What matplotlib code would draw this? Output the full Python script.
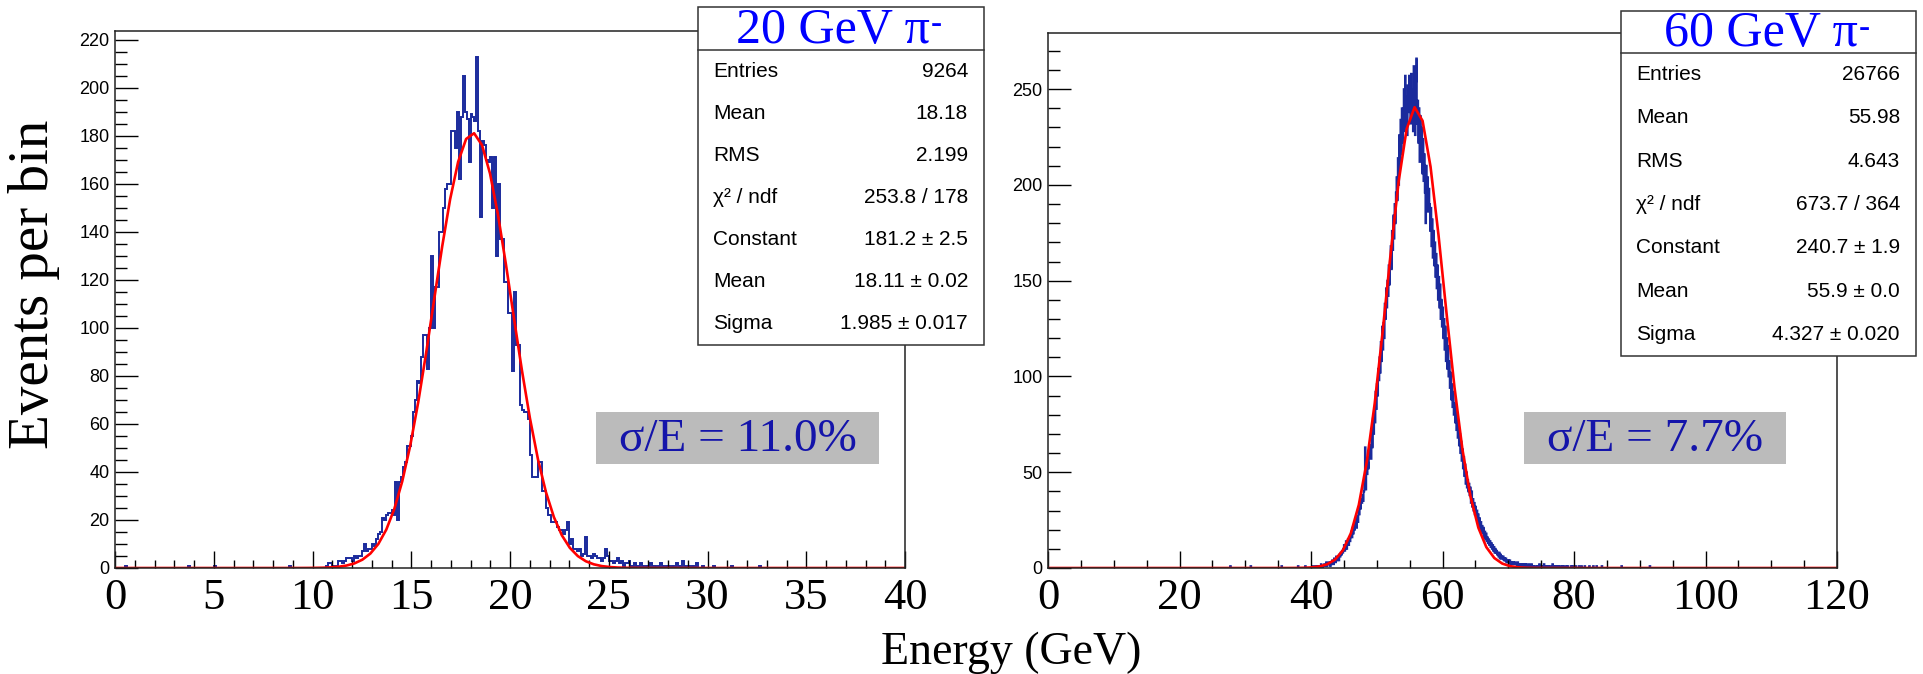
import numpy as np
import matplotlib
matplotlib.use("Agg")
import matplotlib.pyplot as plt
from matplotlib.patches import Rectangle
from matplotlib.ticker import MultipleLocator

W, H = 1923, 674
SERIF = ['Liberation Serif', 'DejaVu Serif']
SANS = ['Liberation Sans', 'DejaVu Sans']
HIST_COLOR = '#1a2a9c'
FIT_COLOR = '#ff0000'

# ---- 20 GeV pi- : 0.1 GeV bins over 0-40 GeV, counts listed from 10.0 GeV ----
e20_range = (0.0, 40.0)
e20_start = 10.0
e20_counts = [
    0, 0, 0, 0, 0, 0, 0, 1, 2, 2,
    1, 0, 1, 3, 3, 2, 3, 4, 4, 4,
    3, 5, 4, 5, 5, 7, 10, 7, 8, 8,
    10, 9, 12, 14, 15, 21, 20, 22, 23, 23,
    24, 22, 36, 20, 36, 38, 42, 44, 51, 51,
    55, 65, 70, 78, 77, 88, 97, 97, 83, 100,
    130, 100, 117, 117, 140, 140, 150, 158, 160, 160,
    182, 182, 175, 190, 162, 188, 205, 190, 187, 169,
    189, 188, 186, 213, 182, 146, 178, 176, 170, 169,
    171, 150, 171, 130, 160, 137, 137, 119, 119, 106,
    106, 82, 115, 93, 93, 68, 66, 65, 65, 62,
    47, 38, 38, 38, 44, 44, 32, 32, 25, 22,
    22, 19, 19, 19, 17, 16, 16, 14, 16, 19,
    10, 12, 8, 8, 7, 8, 5, 6, 13, 5,
    5, 4, 6, 5, 4, 4, 3, 4, 8, 5,
    3, 3, 2, 3, 4, 2, 3, 1, 2, 2,
    3, 1, 1, 2, 1, 1, 2, 1, 0, 1,
    1, 2, 1, 1, 0, 1, 2, 1, 0, 1,
    1, 0, 1, 0, 2, 1, 0, 3, 1, 0,
    1, 0, 1, 0, 2, 0, 0, 1, 0, 0,
]
e20_sparse = [(0.5, 1), (3.7, 1), (5.1, 1), (8.8, 1), (30.4, 1), (31.2, 1), (32.6, 1)]
e20_fit = (181.2, 18.11, 1.985)
e20_title = "20 GeV \u03c0"
e20_stats = [("Entries", "9264"), ("Mean", "18.18"), ("RMS", "2.199"),
             ("\u03c7\u00b2 / ndf", "253.8 / 178"), ("Constant", "181.2 \u00b1 2.5"),
             ("Mean", "18.11 \u00b1 0.02"), ("Sigma", "1.985 \u00b1 0.017")]
e20_res = "\u03c3/E = 11.0%"

# ---- 60 GeV pi- : 0.1 GeV bins over 0-120 GeV, counts listed from 40.0 GeV ----
e60_range = (0.0, 120.0)
e60_start = 40.0
e60_counts = [
    0, 0, 1, 0, 0, 0, 1, 0, 0, 1,
    0, 1, 0, 1, 0, 2, 1, 0, 1, 1,
    2, 1, 1, 3, 1, 2, 2, 3, 2, 1,
    3, 2, 4, 3, 2, 5, 4, 3, 6, 4,
    5, 6, 4, 7, 6, 8, 7, 9, 8, 10,
    12, 9, 11, 14, 10, 13, 15, 12, 16, 14,
    17, 19, 16, 21, 18, 22, 20, 25, 23, 21,
    27, 24, 30, 28, 33, 31, 36, 34, 38, 35,
    40, 46, 63, 41, 50, 49, 55, 52, 58, 61,
    64, 57, 72, 63, 78, 70, 84, 76, 92, 83,
    96, 90, 104, 98, 110, 102, 118, 108, 126, 114,
    128, 120, 138, 130, 146, 136, 150, 142, 158, 148,
    160, 168, 156, 176, 166, 184, 172, 190, 180, 196,
    204, 192, 214, 200, 226, 210, 234, 216, 240, 222,
    236, 250, 228, 257, 232, 246, 226, 252, 238, 257,
    244, 232, 258, 236, 250, 228, 262, 238, 226, 254,
    266, 232, 244, 222, 240, 212, 236, 218, 230, 206,
    224, 202, 216, 196, 180, 210, 192, 204, 186, 198,
    190, 176, 188, 168, 182, 162, 176, 158, 170, 152,
    164, 146, 158, 140, 152, 136, 148, 130, 140, 126,
    136, 120, 130, 114, 126, 108, 120, 104, 116, 100,
    108, 94, 102, 88, 96, 84, 92, 80, 86, 76,
    82, 72, 78, 68, 74, 64, 70, 60, 66, 56,
    62, 52, 58, 48, 54, 44, 50, 42, 46, 40,
    44, 38, 42, 34, 40, 32, 36, 30, 34, 28,
    32, 27, 30, 24, 28, 22, 26, 20, 24, 19,
    22, 18, 21, 16, 19, 15, 18, 14, 16, 13,
    15, 12, 14, 11, 13, 10, 12, 9, 11, 8,
    10, 8, 9, 7, 8, 6, 8, 5, 7, 5,
    6, 5, 6, 4, 5, 4, 5, 3, 4, 3,
    4, 3, 4, 2, 3, 3, 2, 3, 2, 2,
    3, 2, 2, 1, 3, 2, 1, 2, 2, 1,
    2, 1, 2, 1, 1, 2, 1, 2, 1, 1,
    1, 2, 1, 1, 0, 2, 1, 1, 1, 0,
    1, 1, 1, 0, 1, 1, 0, 2, 1, 0,
    0, 1, 1, 0, 2, 0, 1, 0, 1, 0,
    1, 0, 0, 1, 1, 0, 0, 2, 0, 1,
    0, 1, 0, 0, 1, 0, 1, 0, 0, 1,
    0, 0, 1, 0, 1, 0, 0, 0, 1, 0,
    1, 0, 0, 0, 0, 1, 0, 0, 1, 0,
    0, 0, 1, 0, 0, 0, 0, 1, 0, 0,
    0, 1, 0, 0, 0, 0, 1, 0, 0, 0,
    0, 0, 0, 1, 0, 0, 0, 0, 0, 1,
    0, 0, 0, 0, 1, 0, 0, 0, 0, 0,
    0, 0, 1, 0, 0, 0, 0, 0, 0, 0,
]
e60_sparse = [(27.7, 1), (30.9, 1), (35.5, 1), (38.0, 1), (39.1, 1), (87.3, 1), (91.6, 1)]
e60_fit = (240.7, 55.9, 4.327)
e60_title = "60 GeV \u03c0"
e60_stats = [("Entries", "26766"), ("Mean", "55.98"), ("RMS", "4.643"),
             ("\u03c7\u00b2 / ndf", "673.7 / 364"), ("Constant", "240.7 \u00b1 1.9"),
             ("Mean", "55.9 \u00b1 0.0"), ("Sigma", "4.327 \u00b1 0.020")]
e60_res = "\u03c3/E = 7.7%"

BIN_WIDTH = 0.1


def fx(px):
    return px / W


def fy(py):
    return 1 - py / H


def fill_bins(xrange, start, counts, sparse):
    lo, hi = xrange
    n = int(round((hi - lo) / BIN_WIDTH))
    h = np.zeros(n)
    i0 = int(round((start - lo) / BIN_WIDTH))
    h[i0:i0 + len(counts)] = counts
    for e, c in sparse:
        h[int((e - lo) / BIN_WIDTH)] += c
    edges = lo + BIN_WIDTH * np.arange(n + 1)
    return edges, h


def draw_panel(ax, xrange, start, counts, sparse, fit, xmaj, xmin, ymaj, ymin):
    edges, h = fill_bins(xrange, start, counts, sparse)
    ax.stairs(h, edges, color=HIST_COLOR, lw=1.4, baseline=0)
    # gaussian fit drawn like a TF1 with 100 points
    c, mu, sig = fit
    xs = np.linspace(xrange[0], xrange[1], 100)
    ax.plot(xs, c * np.exp(-0.5 * ((xs - mu) / sig) ** 2), color=FIT_COLOR, lw=1.9)
    ax.set_xlim(*xrange)
    ax.set_ylim(0, 1.05 * h.max())
    ax.xaxis.set_major_locator(MultipleLocator(xmaj))
    ax.xaxis.set_minor_locator(MultipleLocator(xmin))
    ax.yaxis.set_major_locator(MultipleLocator(ymaj))
    ax.yaxis.set_minor_locator(MultipleLocator(ymin))
    ax.tick_params(axis='x', which='major', direction='in', length=12, width=1.0, pad=7)
    ax.tick_params(axis='x', which='minor', direction='in', length=6, width=1.0)
    ax.tick_params(axis='y', which='major', direction='in', length=16.5, width=1.0, pad=4)
    ax.tick_params(axis='y', which='minor', direction='in', length=8.5, width=1.0)
    for lab in ax.get_xticklabels():
        lab.set_fontfamily(SERIF)
        lab.set_fontsize(32)
    for lab in ax.get_yticklabels():
        lab.set_fontfamily(SANS)
        lab.set_fontsize(13)
    for sp in ax.spines.values():
        sp.set_linewidth(1.1)
        sp.set_color('#222222')


def stats_box(fig, x0, x1, y0, ytitle, y1, title, rows):
    fig.add_artist(Rectangle((fx(x0), fy(y1)), fx(x1) - fx(x0), fy(y0) - fy(y1),
                             transform=fig.transFigure, facecolor='white',
                             edgecolor='#333333', lw=1.1, zorder=5))
    fig.add_artist(plt.Line2D([fx(x0), fx(x1)], [fy(ytitle), fy(ytitle)],
                              transform=fig.transFigure, color='#333333', lw=1.1, zorder=6))
    # title with a short superscript minus after the pi
    t = fig.text(fx((x0 + x1) / 2 - 8), fy((y0 + ytitle) / 2 + 2), title, family=SERIF,
                 fontsize=36, color='#0000ff', ha='center', va='center', zorder=7)
    bb = t.get_window_extent(renderer=fig.canvas.get_renderer())
    fig.text(bb.x1 / W + fx(1), fy(y0 + 3), "-", family=SERIF, fontsize=24,
             color='#0000ff', ha='left', va='top', zorder=7)
    step = (y1 - ytitle) / len(rows)
    for i, (name, val) in enumerate(rows):
        yc = ytitle + step * (i + 0.5)
        fig.text(fx(x0 + 15), fy(yc), name, family=SANS, fontsize=15,
                 ha='left', va='center', zorder=7)
        fig.text(fx(x1 - 16), fy(yc), val, family=SANS, fontsize=15,
                 ha='right', va='center', zorder=7)


def res_label(fig, x0, x1, y0, y1, text):
    fig.add_artist(Rectangle((fx(x0), fy(y1)), fx(x1) - fx(x0), fy(y0) - fy(y1),
                             transform=fig.transFigure, facecolor='#bbbbbb',
                             edgecolor='none', zorder=5))
    fig.text(fx((x0 + x1) / 2), fy((y0 + y1) / 2 + 2), text, family=SERIF,
             fontsize=34, color='#1414aa', ha='center', va='center', zorder=6)


fig = plt.figure(figsize=(W / 100, H / 100), dpi=100)
ax1 = fig.add_axes([fx(115), fy(568), fx(905) - fx(115), fy(31) - fy(568)])
ax2 = fig.add_axes([fx(1048), fy(568), fx(1837) - fx(1048), fy(33) - fy(568)])

draw_panel(ax1, e20_range, e20_start, e20_counts, e20_sparse, e20_fit, 5, 1, 20, 5)
draw_panel(ax2, e60_range, e60_start, e60_counts, e60_sparse, e60_fit, 20, 5, 50, 10)

stats_box(fig, 698, 984, 7, 50, 345, e20_title, e20_stats)
stats_box(fig, 1621, 1916, 11, 53, 356, e60_title, e60_stats)

res_label(fig, 596, 879, 412, 464, e20_res)
res_label(fig, 1524, 1786, 412, 464, e60_res)

fig.text(fx(1011), fy(664), "Energy (GeV)", family=SERIF, fontsize=33,
         ha='center', va='baseline')
fig.text(fx(34), fy(284), "Events per bin", family=SERIF, fontsize=41,
         rotation=90, ha='center', va='center')

fig.savefig("out.png", dpi=100)
